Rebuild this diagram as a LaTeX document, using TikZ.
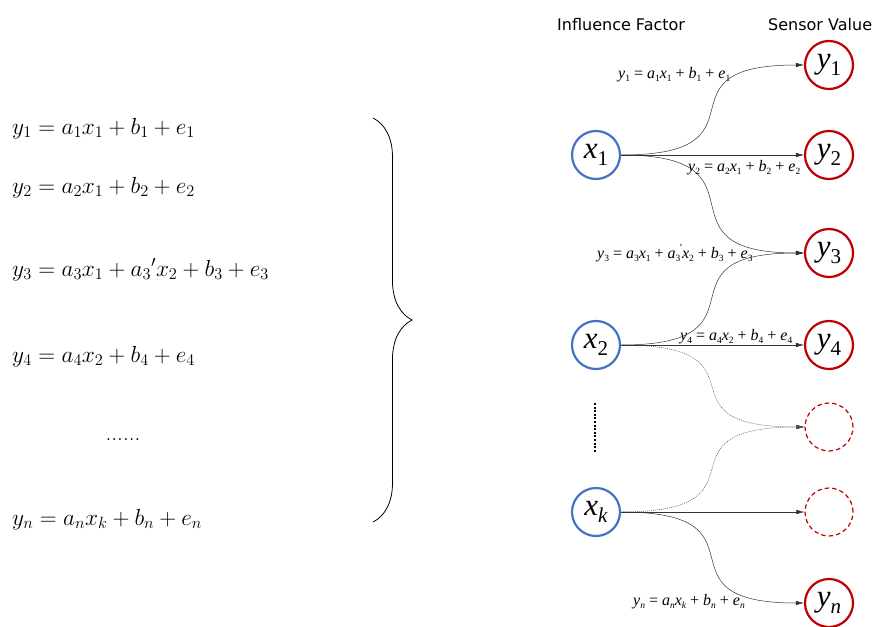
\RequirePackage{fix-cm}
\documentclass[tikz,border=0pt]{standalone}
\usepackage{fontspec}
\newfontfamily\tnr{Liberation Serif}
\newfontfamily\hdr{DejaVu Sans}
\usetikzlibrary{arrows.meta,decorations.pathreplacing}
\definecolor{xblue}{RGB}{68,114,196}
\definecolor{yred}{RGB}{192,0,0}
\newcommand\tv[2]{\textit{#1}\raisebox{-0.22em}{\fontsize{9.5}{9.5}\selectfont #2}}
\newcommand\cv[2]{\scalebox{1.29}{{\tnr\fontsize{24}{24}\selectfont\itshape #1}\raisebox{-5.4pt}{\tnr\fontsize{16.3}{16.3}\selectfont #2}}}
\begin{document}
\begin{tikzpicture}[x=1pt,y=-1pt,
  xnode/.style={circle,draw=xblue,line width=2.2pt,minimum size=48pt,inner sep=0pt},
  ynode/.style={circle,draw=yred,line width=2.2pt,minimum size=48pt,inner sep=0pt},
  ghost/.style={circle,draw=yred,line width=1.2pt,dash pattern=on 4.5pt off 3pt,minimum size=48pt,inner sep=0pt},
  link/.style={-{Latex[length=8pt,width=4.5pt]},line width=0.5pt,draw=black!80},
  dotlink/.style={link,dash pattern=on 1pt off 1pt,draw=black!70},
  eqn/.style={anchor=base west,inner sep=0pt,font=\fontsize{23.3}{28}\selectfont},
  elab/.style={anchor=base west,inner sep=0pt,font=\tnr\fontsize{16}{16}\selectfont},
  head/.style={anchor=base west,inner sep=0pt,font=\hdr\fontsize{16}{16}\selectfont}]
\useasboundingbox (0,0) rectangle (874,626);

% left equations
\node[eqn] (e1) at (12,134) {$y_1=a_1x_1+b_1+e_1$};
\node[eqn] (e2) at (12,193) {$y_2=a_2x_1+b_2+e_2$};
\node[eqn] (e3) at (12,276) {$y_3=a_3x_1+a_3{}'x_2+b_3+e_3$};
\node[eqn] (e4) at (12,362) {$y_4=a_4x_2+b_4+e_4$};
\node[eqn,anchor=base] (edots) at (123,440) {......};
\node[eqn] (en) at (12,525) {$y_n=a_nx_k+b_n+e_n$};

% brace
\draw[line width=0.8pt,decorate,decoration={brace,amplitude=39pt}] (373,118) -- (373,522) coordinate (bracebot);

% headers
\node[head] (hin) at (557,31) {Influence Factor};
\node[head] (hsv) at (768,31) {Sensor Value};

% x nodes
\node[xnode] (x1) at (596,155) {\cv{x}{1}};
\node[xnode] (x2) at (596,345) {\cv{x}{2}};
\node[xnode] (xk) at (596,512) {\cv{x}{\itshape k}};
\draw[line width=2.6pt,dash pattern=on 2pt off 1.6pt] (595,403) -- (595,453);

% y nodes
\node[ynode] (y1) at (829,65) {\cv{y}{1}};
\node[ynode] (y2) at (829,155) {\cv{y}{2}};
\node[ynode] (y3) at (829,253) {\cv{y}{3}};
\node[ynode] (y4) at (829,345) {\cv{y}{4}};
\node[ghost] (g1) at (829,427) {};
\node[ghost] (g2) at (829,512) {};
\node[ynode] (yn) at (829,603) {\cv{y}{\itshape n}};

% links
\draw[link] (x1.east) .. controls +(155,0) and +(-155,0) .. (y1.west);
\draw[link] (x1.east) -- (y2.west);
\draw[link] (x1.east) .. controls +(155,0) and +(-155,0) .. (y3.west);
\draw[link] (x2.east) .. controls +(155,0) and +(-155,0) .. (y3.west);
\draw[link] (x2.east) -- (y4.west);
\draw[dotlink] (x2.east) .. controls +(155,0) and +(-155,0) .. (g1.west);
\draw[dotlink] (xk.east) .. controls +(155,0) and +(-155,0) .. (g1.west);
\draw[link] (xk.east) -- (g2.west);
\draw[link] (xk.east) .. controls +(155,0) and +(-155,0) .. (yn.west);

% edge labels
\node[elab] (l1) at (618,78) {\tv{y}{1} = \tv{a}{1}\tv{x}{1} + \tv{b}{1} + \tv{e}{1}};
\node[elab] (l2) at (688,171) {\tv{y}{2} = \tv{a}{2}\tv{x}{1} + \tv{b}{2} + \tv{e}{2}};
\node[elab] (l3) at (597,258) {\tv{y}{3} = \tv{a}{3}\tv{x}{1} + \tv{a}{3}\raisebox{0.42em}{\kern-1pt\fontsize{11}{11}\selectfont\textit{′}}\tv{x}{2} + \tv{b}{3} + \tv{e}{3}};
\node[elab] (l4) at (680,340) {\tv{y}{4} = \tv{a}{4}\tv{x}{2} + \tv{b}{4} + \tv{e}{4}};
\node[elab] (ln) at (633,605) {\tv{y}{\itshape n} = \tv{a}{\itshape n}\tv{x}{\itshape k} + \tv{b}{\itshape n} + \tv{e}{\itshape n}};
\end{tikzpicture}
\end{document}
